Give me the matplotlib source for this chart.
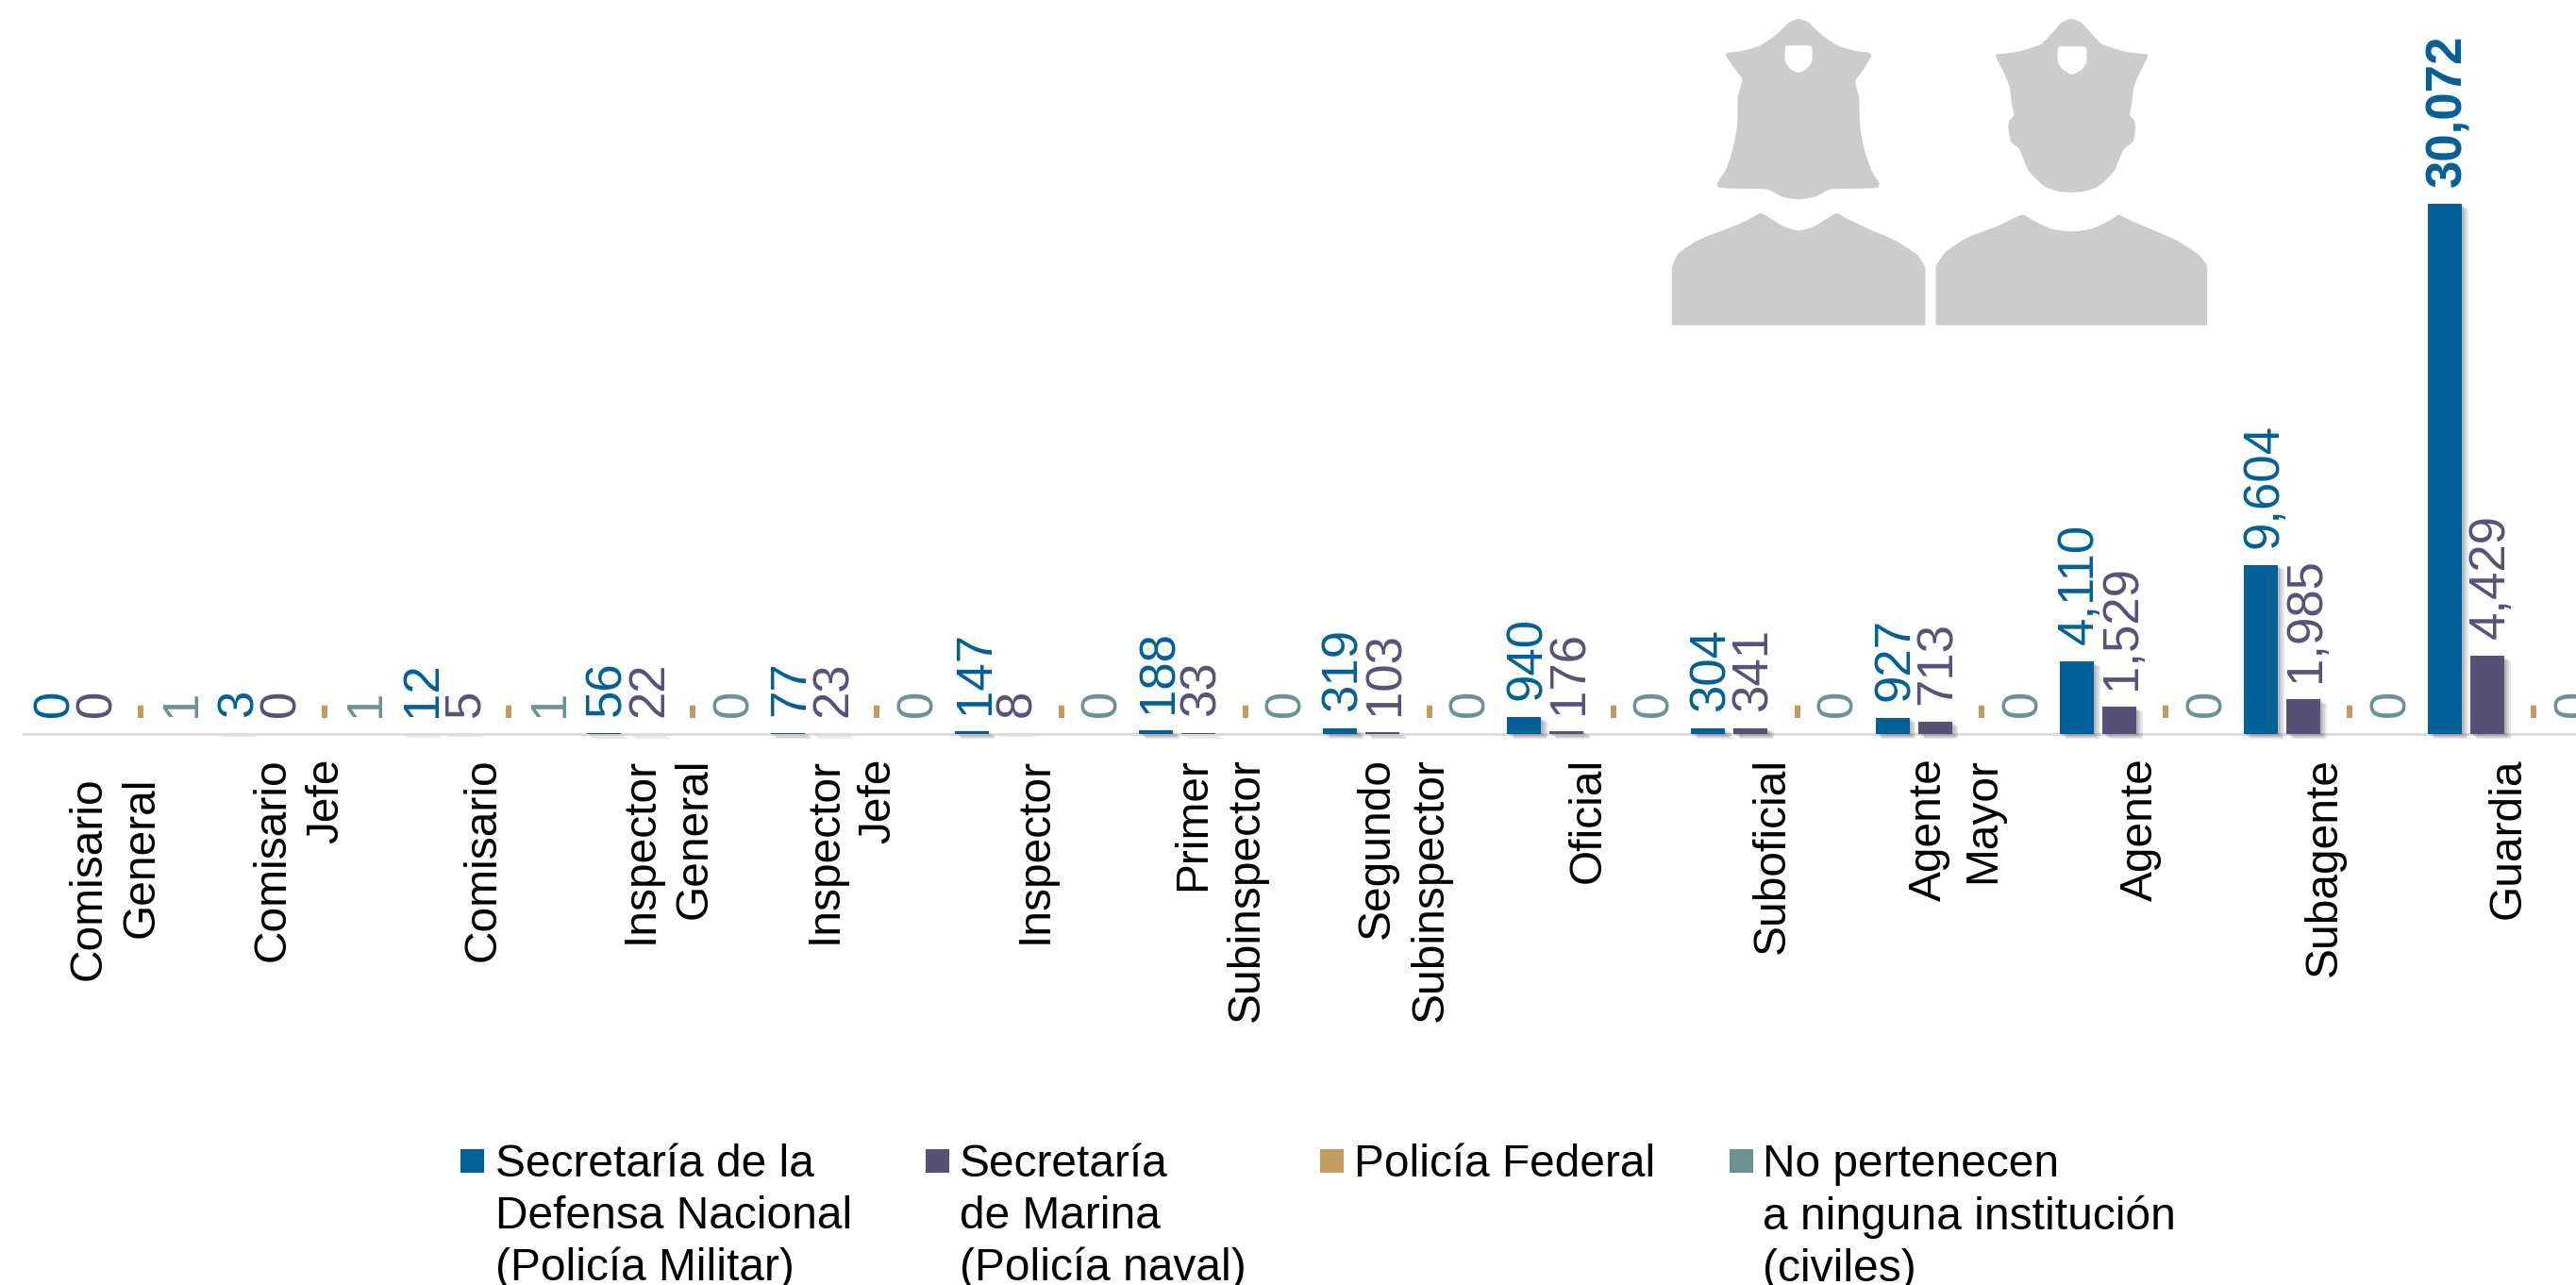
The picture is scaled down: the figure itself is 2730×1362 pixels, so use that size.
import matplotlib
matplotlib.use('Agg')
import matplotlib.pyplot as plt
import matplotlib.patheffects as pe
from matplotlib.patches import PathPatch, Rectangle
from matplotlib.path import Path
from matplotlib.transforms import Affine2D

plt.rcParams['font.family'] = ['Liberation Sans', 'DejaVu Sans']

# datos
categorias = ['Comisario\nGeneral', 'Comisario\nJefe', 'Comisario', 'Inspector\nGeneral',
              'Inspector\nJefe', 'Inspector', 'Primer\nSubinspector', 'Segundo\nSubinspector',
              'Oficial', 'Suboficial', 'Agente\nMayor', 'Agente', 'Subagente', 'Guardia']
sedena = [0, 3, 12, 56, 77, 147, 188, 319, 940, 304, 927, 4110, 9604, 30072]
marina = [0, 0, 5, 22, 23, 8, 33, 103, 176, 341, 713, 1529, 1985, 4429]
federal = [0] * 14
civiles = [1, 1, 1, 0, 0, 0, 0, 0, 0, 0, 0, 0, 0, 0]

azul = '#006098'
morado = '#595078'
dorado = '#c19b5d'
verde = '#6a9294'

leyenda_textos = ['Secretaría de la\nDefensa Nacional\n(Policía Militar)',
                  'Secretaría\nde Marina\n(Policía naval)',
                  'Policía Federal',
                  'No pertenecen\na ninguna institución\n(civiles)']

W, H = 2730, 1362
DPI = 100
fig = plt.figure(figsize=(W / DPI, H / DPI), dpi=DPI)

# ejes en pixeles de la imagen
base_y = 778
x_ini = 24.5
periodo = 195.1
ax = fig.add_axes([x_ini / W, 1 - base_y / H, (W - x_ini) / W, base_y / H])
ax.set_xlim(-0.5, -0.5 + (W - x_ini) / periodo)
ax.set_ylim(0, base_y / 0.01868)
ax.patch.set_alpha(0)

ancho = 36 / periodo
paso = 45 / periodo
sombra = [pe.SimplePatchShadow(offset=(d, -d * 0.7), shadow_rgbFace='#555555', alpha=0.13)
          for d in (5.0, 3.8, 2.6, 1.4)] + [pe.Normal()]

series = [(sedena, azul), (marina, morado), (federal, dorado), (civiles, verde)]
for j, (valores, color) in enumerate(series):
    xs = [i + (j - 1.5) * paso for i in range(len(valores))]
    if j < 2:
        barras = ax.bar(xs, valores, ancho, color=color, zorder=3)
        for b in barras:
            b.set_path_effects(sombra)
            b.set_clip_on(False)
    for i, (x, v) in enumerate(zip(xs, valores)):
        peso = 'bold' if v == max(sedena) else 'normal'
        txt = f'{v:,}'
        if j == 2:
            # la Policia Federal solo trae un guion como etiqueta
            txt = '-'
            peso = 'bold'
        ax.annotate(txt, (x, v), xytext=(2.5, 13), textcoords='offset points',
                    rotation=90, ha='center', va='bottom', color=color,
                    fontsize=38, fontweight=peso, zorder=4)

for lado in ['top', 'left', 'right']:
    ax.spines[lado].set_visible(False)
ax.spines['bottom'].set_color('#d9d9d9')
ax.spines['bottom'].set_linewidth(2.0)
ax.set_yticks([])
ax.set_xticks(range(len(categorias)))
ax.set_xticklabels(categorias, rotation=90, ha='center', va='top', ma='right',
                   fontsize=34.5, linespacing=1.33, color='black')
ax.tick_params(axis='x', length=0, pad=18)
ax.xaxis.get_major_ticks()[0].set_pad(33)

# leyenda
ley_cuadro_x = [488, 981, 1399, 1833]
ley_texto_x = [525, 1017, 1435, 1868]
for cx, tx, t, (_, color) in zip(ley_cuadro_x, ley_texto_x, leyenda_textos, series):
    fig.add_artist(Rectangle((cx / W, 1 - 1243 / H), 25 / W, 25 / H, transform=fig.transFigure,
                             facecolor=color, edgecolor='none'))
    fig.text(tx / W, 1 - 1212 / H, t, fontsize=34.5, va='top', ha='left', color='black',
             linespacing=1.28)


# iconos: contornos suavizados (Catmull-Rom a bezier)
def curva(puntos, cerrada=True, k=0.11):
    n = len(puntos)
    verts = [puntos[0]]
    codes = [Path.MOVETO]
    tramos = n if cerrada else n - 1
    for i in range(tramos):
        if cerrada:
            p0, p1, p2, p3 = puntos[i - 1], puntos[i], puntos[(i + 1) % n], puntos[(i + 2) % n]
        else:
            p0, p1, p2, p3 = puntos[max(i - 1, 0)], puntos[i], puntos[i + 1], puntos[min(i + 2, n - 1)]
        c1 = (p1[0] + (p2[0] - p0[0]) * k, p1[1] + (p2[1] - p0[1]) * k)
        c2 = (p2[0] - (p3[0] - p1[0]) * k, p2[1] - (p3[1] - p1[1]) * k)
        verts += [c1, c2, p2]
        codes += [Path.CURVE4] * 3
    return verts, codes


cabeza_mujer = [(382, 60), (410, 72), (445, 110), (490, 145), (540, 162), (575, 167), (583, 177),
                (565, 215), (540, 255), (540, 270), (549, 310), (552, 400), (565, 480), (585, 545),
                (605, 582), (598, 597), (540, 600), (470, 602), (430, 625), (382, 634), (335, 625),
                (295, 602), (220, 600), (165, 597), (157, 582), (180, 540), (198, 480), (212, 400),
                (214, 310), (225, 260), (222, 245), (200, 210), (180, 177), (187, 167), (225, 162),
                (275, 145), (320, 110), (355, 72)]
placa_mujer = [(352, 145), (412, 145), (419, 152), (419, 195), (405, 218), (381, 231), (358, 218),
               (345, 195), (345, 152)]
cuerpo_mujer = [(31, 850), (50, 805), (110, 760), (190, 725), (240, 700), (275, 678), (295, 688),
                (340, 720), (382, 733), (425, 720), (470, 688), (488, 678), (515, 695), (580, 730),
                (650, 765), (710, 810), (733, 850)]
cabeza_hombre = [(1138, 60), (1165, 72), (1195, 110), (1225, 142), (1290, 165), (1345, 173),
                 (1347, 185), (1325, 235), (1310, 280), (1305, 330), (1299, 365), (1312, 385),
                 (1315, 410), (1308, 450), (1285, 472), (1272, 500), (1255, 545), (1215, 590),
                 (1175, 608), (1138, 612), (1100, 608), (1060, 590), (1020, 545), (1003, 500),
                 (992, 472), (970, 450), (963, 410), (965, 385), (978, 365), (972, 330), (967, 280),
                 (952, 235), (930, 185), (930, 173), (985, 165), (1050, 142), (1080, 110), (1110, 72)]
placa_hombre = [(1107, 148), (1170, 148), (1179, 155), (1179, 198), (1165, 222), (1139, 237),
                (1115, 222), (1100, 198), (1100, 155)]
cuerpo_hombre = [(762, 845), (790, 800), (850, 755), (930, 720), (985, 690), (1005, 683), (1030, 700),
                 (1080, 727), (1138, 736), (1195, 727), (1245, 700), (1268, 683), (1290, 695),
                 (1350, 725), (1430, 765), (1490, 810), (1513, 845)]

trans = Affine2D().scale(600 / 1568, 1 / 3).translate(1760, 0).scale(1, -1).translate(0, H)


def agrega(verts, codes, color):
    fig.add_artist(PathPatch(Path(verts, codes), facecolor=color, edgecolor='none',
                             transform=trans, zorder=1))


for pts in [cabeza_mujer, cabeza_hombre]:
    v, c = curva(pts)
    agrega(v, c, '#cccccc')
for pts in [placa_mujer, placa_hombre]:
    v, c = curva(pts)
    agrega(v, c, 'white')
for pts in [cuerpo_mujer, cuerpo_hombre]:
    v, c = curva(pts, cerrada=False)
    v = v + [(pts[-1][0], 1034), (pts[0][0], 1034), pts[0]]
    c = c + [Path.LINETO] * 3
    agrega(v, c, '#cccccc')

fig.savefig('out.png', dpi=DPI)
